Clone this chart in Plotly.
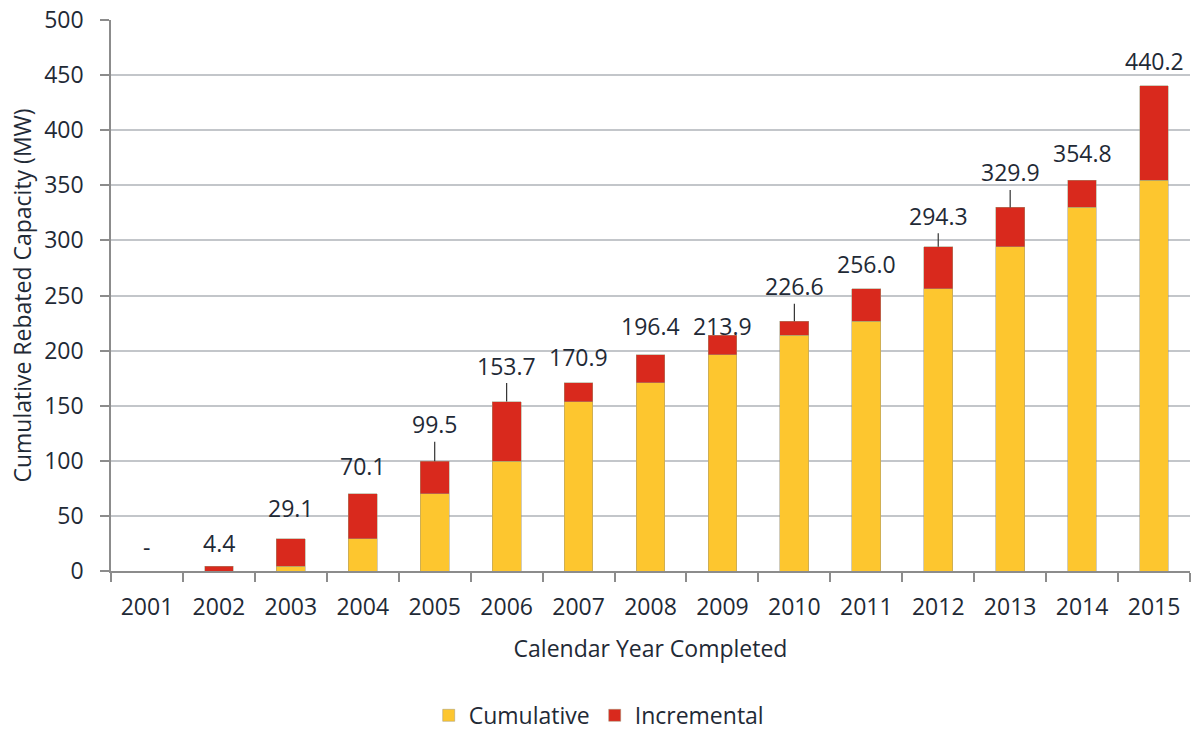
import plotly.graph_objects as go

years = ['2001', '2002', '2003', '2004', '2005', '2006', '2007', '2008',
         '2009', '2010', '2011', '2012', '2013', '2014', '2015']
cumulative = [0, 0, 4.4, 29.1, 70.1, 99.5, 153.7, 170.9, 196.4, 213.9,
              226.6, 256.0, 294.3, 329.9, 354.8]
incremental = [0, 4.4, 24.7, 41.0, 29.4, 54.2, 17.2, 25.5, 17.5, 12.7,
               29.4, 38.3, 35.6, 24.9, 85.4]
totals = [0, 4.4, 29.1, 70.1, 99.5, 153.7, 170.9, 196.4, 213.9, 226.6,
          256.0, 294.3, 329.9, 354.8, 440.2]
label_texts = ['-', '4.4', '29.1', '70.1', '99.5', '153.7', '170.9', '196.4',
               '213.9', '226.6', '256.0', '294.3', '329.9', '354.8', '440.2']

# label placement (pixels above bar top) and leader-line flags
label_offsets = [24, 23, 31, 28, 37, 36, 26, 29, 9, 35, 25, 31, 35, 27, 25]
leader = [False, False, False, False, True, True, False, False, False, True,
          False, True, True, False, False]

FONT = 'Open Sans'
FS = 23
TXT = '#1f2a36'
YELLOW = '#FDC62F'
RED = '#D9291D'

fig = go.Figure()
fig.add_trace(go.Bar(
    x=years, y=cumulative, name='Cumulative', width=0.4,
    marker=dict(color=YELLOW, line=dict(color='rgba(160,150,120,0.7)', width=0.7)),
))
fig.add_trace(go.Bar(
    x=years, y=incremental, name='Incremental', width=0.4,
    marker=dict(color=RED, line=dict(color='rgba(160,150,120,0.7)', width=0.7)),
))

for i, (tot, txt, off, ld) in enumerate(zip(totals, label_texts, label_offsets, leader)):
    fig.add_annotation(
        x=i, y=tot, xref='x', yref='y', text=txt, showarrow=True, ax=0, ay=-off,
        arrowhead=0, arrowwidth=1.2 if ld else 0.1,
        arrowcolor='#333333' if ld else 'rgba(0,0,0,0)',
        standoff=0, font=dict(family=FONT, size=FS, color=TXT),
    )

fig.update_layout(
    barmode='stack',
    width=1192, height=731,
    margin=dict(l=111, r=2, t=20, b=160, autoexpand=False),
    paper_bgcolor='white', plot_bgcolor='white',
    font=dict(family=FONT, size=FS, color=TXT),
    showlegend=True,
    legend=dict(orientation='h', x=0.452, xanchor='center', y=-0.262,
                yanchor='middle', font=dict(family=FONT, size=FS, color=TXT),
                itemwidth=30, traceorder='normal'),
)
fig.update_xaxes(
    type='category', range=[-0.5, len(years) - 0.5], autorange=False,
    automargin=False,
    showgrid=False, showline=True, linecolor='#8c8c8c',
    linewidth=1.5, ticks='outside', tickson='boundaries', ticklen=9,
    tickcolor='#8c8c8c', tickwidth=1.5, ticklabelstandoff=15, tickangle=0,
    tickfont=dict(family=FONT, size=FS, color=TXT),
    title=dict(text='Calendar Year Completed', standoff=20,
               font=dict(family=FONT, size=FS, color=TXT)),
)
fig.update_yaxes(
    range=[0, 500], dtick=50, showgrid=True, gridcolor='#c3c6ca', gridwidth=1.5,
    automargin=False,
    showline=True, linecolor='#8c8c8c', linewidth=1.5, ticks='outside',
    ticklen=9, tickcolor='#8c8c8c', tickwidth=1.5, ticklabelstandoff=12,
    zeroline=False,
    tickfont=dict(family=FONT, size=FS, color=TXT),
    title=dict(text='Cumulative Rebated Capacity (MW)', standoff=6,
               font=dict(family=FONT, size=FS, color=TXT)),
)

fig.write_html('out.html', config={'displayModeBar': False},
               post_script="document.body.style.margin='0px';document.body.style.overflow='hidden';")
